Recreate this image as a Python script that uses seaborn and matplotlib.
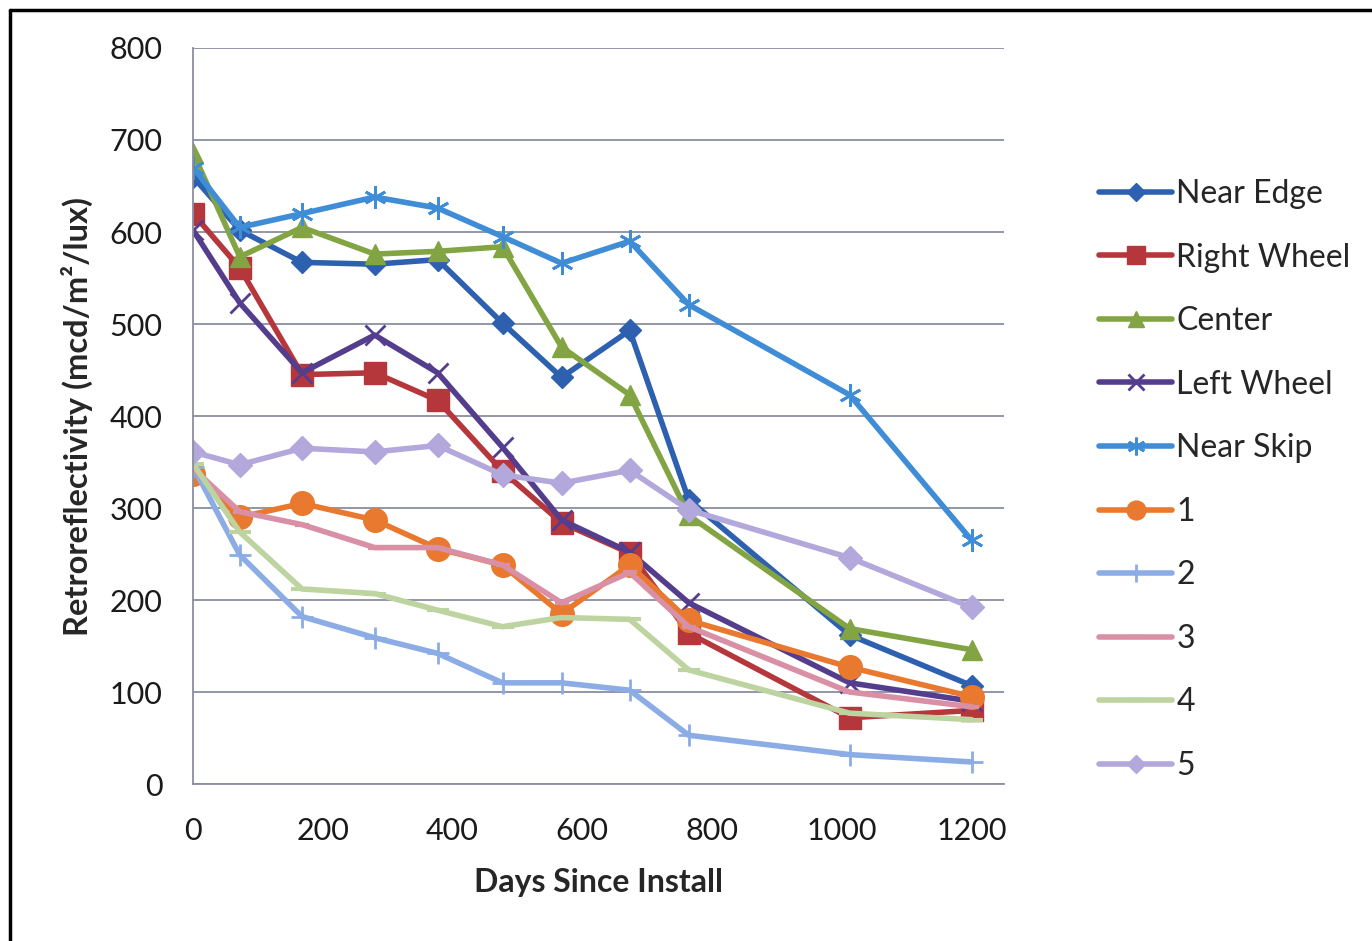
import seaborn as sns
import matplotlib.pyplot as plt
from matplotlib.lines import Line2D

# days since install (shared by every series)
days = [0, 72, 168, 280, 377, 477, 568, 673, 764, 1012, 1200]

near_edge = [660, 602, 567, 565, 570, 501, 442, 493, 309, 162, 107]
right_wheel = [620, 561, 445, 447, 417, 340, 284, 251, 164, 72, 80]
center = [686, 573, 605, 576, 579, 584, 475, 423, 292, 169, 146]
left_wheel = [602, 523, 447, 488, 447, 366, 287, 252, 197, 110, 90]
near_skip = [670, 605, 620, 638, 626, 595, 566, 590, 521, 423, 265]
s1 = [337, 290, 305, 287, 256, 238, 185, 238, 178, 127, 95]
s2 = [345, 249, 182, 159, 142, 110, 110, 102, 53, 32, 24]
s3 = [343, 296, 282, 257, 257, 238, 197, 230, 171, 100, 84]
s4 = [348, 274, 212, 207, 189, 171, 181, 179, 124, 77, 70]
s5 = [361, 347, 365, 361, 368, 336, 327, 341, 298, 246, 192]

names = ['Near Edge', 'Right Wheel', 'Center', 'Left Wheel', 'Near Skip',
         '1', '2', '3', '4', '5']
values = [near_edge, right_wheel, center, left_wheel, near_skip,
          s1, s2, s3, s4, s5]
colors = ['#2E60B0', '#B5363B', '#82A443', '#533D8C', '#3E8DD6',
          '#E8792E', '#8CACE6', '#D990A6', '#BDD3A0', '#B2A8DC']
markers = ['D', 's', '^', 'x', (6, 2, 0), 'o', '+', '_', '_', 'D']
msizes = [11, 16, 15, 14, 16, 17, 16, 10, 16, 12]
medges = [1, 1, 1, 2, 2, 1, 2, 3, 3, 1]

sns.set_style('white')
plt.rcParams['font.family'] = ['Lato', 'DejaVu Sans']

fig = plt.figure(figsize=(13.72, 9.41), dpi=100)
ax = fig.add_axes([0.1407, 0.1668, 0.5911, 0.7822])

for name, vals, c, m, ms, mew in zip(names, values, colors, markers, msizes, medges):
    sns.lineplot(x=days, y=vals, ax=ax, color=c, marker=m, markersize=ms,
                 markeredgecolor=c, markerfacecolor=c, markeredgewidth=mew,
                 linewidth=4, label=name, legend=False)

ax.set_xlim(0, 1250)
ax.set_ylim(0, 800)
ax.set_xticks(range(0, 1201, 200))
ax.set_yticks(range(0, 801, 100))
ax.yaxis.grid(True, color='#8A8EA0', linewidth=1.3)
ax.set_axisbelow(True)
for s in ['top', 'right']:
    ax.spines[s].set_visible(False)
for s in ['left', 'bottom']:
    ax.spines[s].set_color('#8A8EA0')
    ax.spines[s].set_linewidth(1.3)
ax.tick_params(axis='both', direction='out', length=7, width=1.3,
               color='#8A8EA0', labelsize=22, labelcolor='#1a1a1a')
ax.tick_params(axis='y', pad=15)
ax.tick_params(axis='x', pad=17)

ax.set_xlabel('Days Since Install', fontsize=23, fontweight='bold', labelpad=16)
ax.set_ylabel('Retroreflectivity (mcd/m²/lux)', fontsize=23.5,
              fontweight='bold', labelpad=12)

handles = [Line2D([], [], color=c, marker=m, markersize=ms * 0.8,
                  markeredgecolor=c, markerfacecolor=c, markeredgewidth=mew,
                  linewidth=4)
           for c, m, ms, mew in zip(colors, markers, msizes, medges)]
fig.legend(handles, names, loc='center left', bbox_to_anchor=(0.78, 0.49),
           frameon=False, fontsize=23, handlelength=2.3, handletextpad=0.12,
           labelspacing=1.05)

# outer frame (top and left edges visible)
fig.add_artist(Line2D([0.007, 1.0], [0.989, 0.989], color='black', linewidth=2.5,
                      transform=fig.transFigure))
fig.add_artist(Line2D([0.0075, 0.0075], [0.0, 0.989], color='black', linewidth=2.5,
                      transform=fig.transFigure))

fig.savefig('out.png', dpi=100)
